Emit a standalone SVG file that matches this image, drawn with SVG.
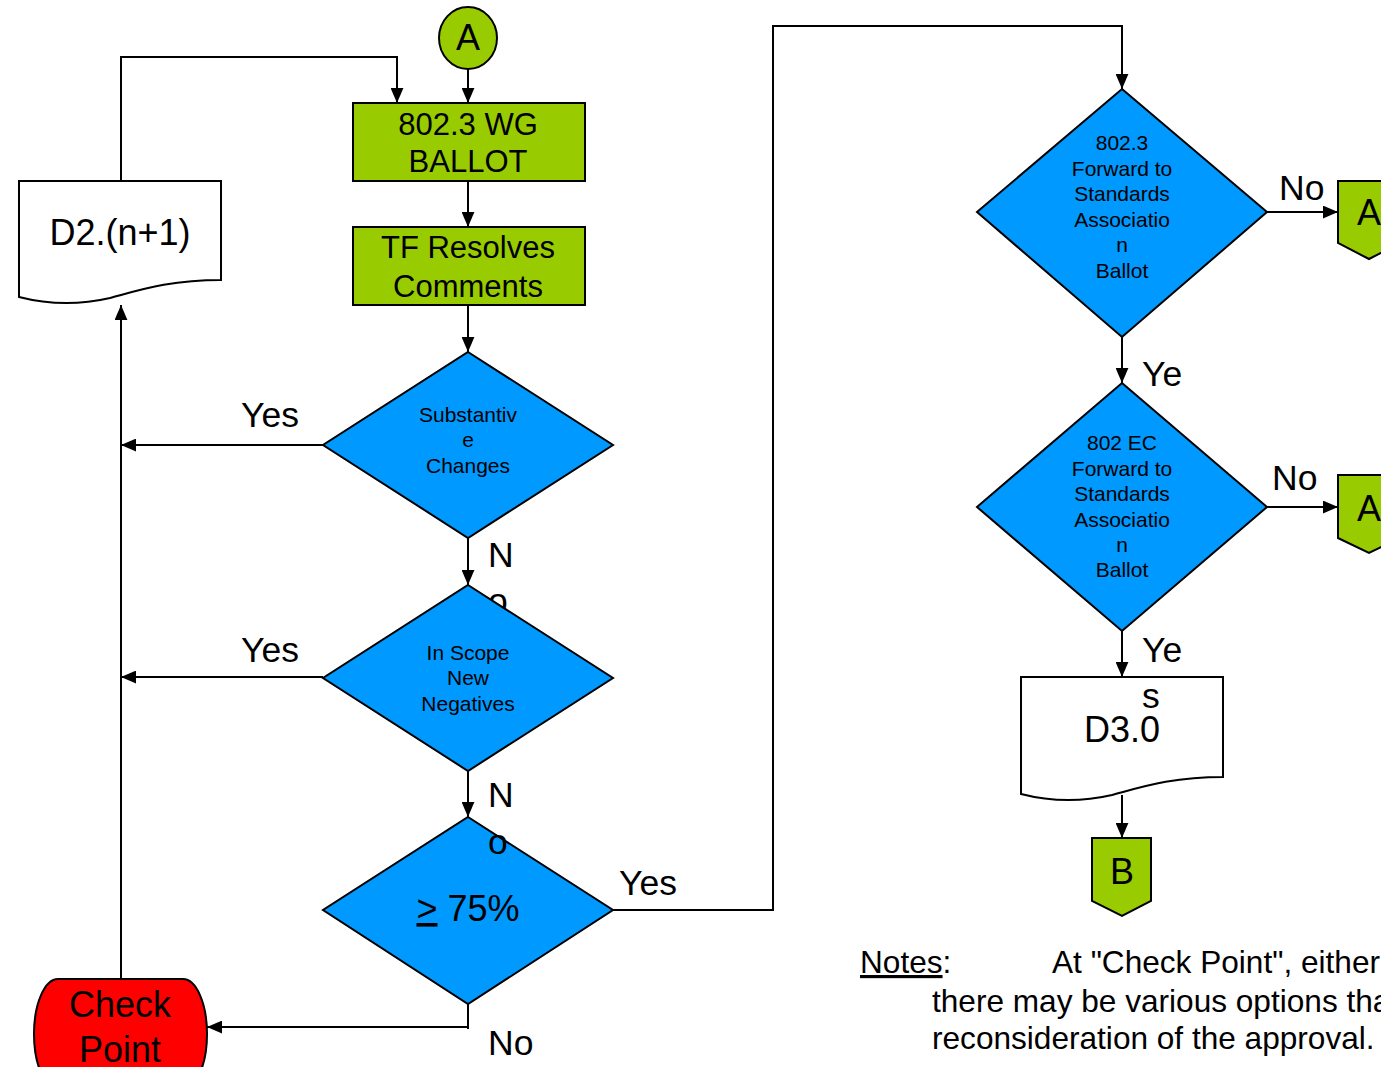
<svg xmlns="http://www.w3.org/2000/svg" width="1381" height="1067" viewBox="0 0 1381 1067">
<style>
.g{fill:#99CC00;stroke:#000;stroke-width:2}
.b{fill:#0099FF;stroke:#000;stroke-width:2}
.w{fill:#FFFFFF;stroke:#000;stroke-width:2}
.r{fill:#FF0000;stroke:#000;stroke-width:2}
.ln{fill:none;stroke:#000;stroke-width:2}
text{font-family:"Liberation Sans",Arial,sans-serif;fill:#000}
.t36{font-size:36px;text-anchor:middle}
.t31{font-size:31px;text-anchor:middle}
.t21{font-size:21px;text-anchor:middle}
.lb{font-size:35.5px}
.nt{font-size:31.6px}
</style>
<defs>
<marker id="ah" viewBox="0 0 14 12" refX="14" refY="6" markerWidth="15" markerHeight="13" markerUnits="userSpaceOnUse" orient="auto">
<path d="M0,0 L14,6 L0,12 Z" fill="#000"/>
</marker>
</defs>
<rect width="1381" height="1067" fill="#FFFFFF"/>
<g id="connectors">
<path class="ln" d="M468,69 V103" marker-end="url(#ah)"/>
<path class="ln" d="M121,181 V57 H397 V103" marker-end="url(#ah)"/>
<path class="ln" d="M468,181 V227" marker-end="url(#ah)"/>
<path class="ln" d="M468,305 V352" marker-end="url(#ah)"/>
<path class="ln" d="M323,445 H121" marker-end="url(#ah)"/>
<path class="ln" d="M468,538 V585" marker-end="url(#ah)"/>
<path class="ln" d="M323,677 H121" marker-end="url(#ah)"/>
<path class="ln" d="M468,771 V817" marker-end="url(#ah)"/>
<path class="ln" d="M613,910 H773 V26 H1122 V89" marker-end="url(#ah)"/>
<path class="ln" d="M468,1004 V1029 M468,1027 H207" marker-end="url(#ah)"/>
<path class="ln" d="M121,979 V305" marker-end="url(#ah)"/>
<path class="ln" d="M1267,212 H1338" marker-end="url(#ah)"/>
<path class="ln" d="M1122,337 V383" marker-end="url(#ah)"/>
<path class="ln" d="M1267,507 H1338" marker-end="url(#ah)"/>
<path class="ln" d="M1122,631 V677" marker-end="url(#ah)"/>
<path class="ln" d="M1122,795 V838" marker-end="url(#ah)"/>
<text class="lb" x="241" y="427">Yes</text>
<text class="lb" x="241" y="662">Yes</text>
<text class="lb" x="488" y="567">N</text>
<text class="lb" x="488" y="613">o</text>
<text class="lb" x="619" y="895">Yes</text>
<text class="lb" x="488" y="1055">No</text>
<text class="lb" x="1279" y="200">No</text>
<text class="lb" x="1272" y="490">No</text>
<text class="lb" x="1142" y="386">Ye</text>
<text class="lb" x="1142" y="662">Ye</text>
</g>
<g id="nodeA">
<ellipse class="g" cx="468" cy="38" rx="29" ry="31"/>
<text class="t36" x="468" y="50">A</text>
</g>
<g id="wgBallot">
<rect class="g" x="353" y="103" width="232" height="78"/>
<text class="t31" x="468" y="135">802.3 WG</text>
<text class="t31" x="468" y="172">BALLOT</text>
</g>
<g id="tfResolves">
<rect class="g" x="353" y="227" width="232" height="78"/>
<text class="t31" x="468" y="258">TF Resolves</text>
<text class="t31" x="468" y="297">Comments</text>
</g>
<g id="d2n1">
<path class="w" d="M19,181 H221 V280 C170,280 140,290 110,298 C80,305 50,305 19,297 Z"/>
<text class="t36" x="120" y="245">D2.(n+1)</text>
</g>
<g id="substantive">
<polygon class="b" points="468,352 613,445 468,538 323,445"/>
<text class="t21" x="468" y="422">Substantiv</text>
<text class="t21" x="468" y="447">e</text>
<text class="t21" x="468" y="473">Changes</text>
</g>
<g id="inScope">
<polygon class="b" points="468,585 613,678 468,771 323,678"/>
<text class="t21" x="468" y="660">In Scope</text>
<text class="t21" x="468" y="685">New</text>
<text class="t21" x="468" y="711">Negatives</text>
</g>
<g id="pct75">
<polygon class="b" points="468,817 613,910 468,1004 323,910"/>
<text class="t36" x="468" y="921"><tspan text-decoration="underline">&gt;</tspan> 75%</text>
</g>
<g id="checkPoint">
<rect class="r" x="34" y="979" width="173" height="110" rx="24" ry="55"/>
<text class="t36" x="120" y="1017">Check</text>
<text class="t36" x="120" y="1062">Point</text>
</g>
<g id="fwd8023">
<polygon class="b" points="1122,89 1267,212 1122,337 977,212"/>
<text class="t21" x="1122" y="150">802.3</text>
<text class="t21" x="1122" y="176">Forward to</text>
<text class="t21" x="1122" y="201">Standards</text>
<text class="t21" x="1122" y="227">Associatio</text>
<text class="t21" x="1122" y="252">n</text>
<text class="t21" x="1122" y="278">Ballot</text>
</g>
<g id="offA1">
<path class="g" d="M1338,181 H1400 V243 L1369,259 L1338,243 Z"/>
<text class="t36" x="1369" y="225">A</text>
</g>
<g id="fwd802EC">
<polygon class="b" points="1122,383 1267,507 1122,631 977,507"/>
<text class="t21" x="1122" y="450">802 EC</text>
<text class="t21" x="1122" y="476">Forward to</text>
<text class="t21" x="1122" y="501">Standards</text>
<text class="t21" x="1122" y="527">Associatio</text>
<text class="t21" x="1122" y="552">n</text>
<text class="t21" x="1122" y="577">Ballot</text>
</g>
<g id="offA2">
<path class="g" d="M1338,475 H1400 V538 L1369,553 L1338,538 Z"/>
<text class="t36" x="1369" y="521">A</text>
</g>
<g id="d30">
<path class="w" d="M1021,677 H1223 V777 C1172,777 1142,787 1112,795 C1082,802 1052,802 1021,794 Z"/>
<text class="t36" x="1122" y="742">D3.0</text>
</g>
<g id="offB">
<path class="g" d="M1092,838 H1151 V901 L1122,916 L1092,901 Z"/>
<text class="t36" x="1122" y="884">B</text>
</g>
<g id="labelsTop">
<text class="lb" x="488" y="807">N</text>
<text class="lb" x="488" y="854">o</text>
<text class="lb" x="1142" y="708">s</text>
</g>
<g id="notes">
<text class="nt" x="860" y="973"><tspan text-decoration="underline">Notes</tspan>:</text>
<text class="nt" x="1052" y="973">At "Check Point", either</text>
<text class="nt" x="932" y="1012">there may be various options tha</text>
<text class="nt" x="932" y="1049">reconsideration of the approval.</text>
</g>
</svg>
